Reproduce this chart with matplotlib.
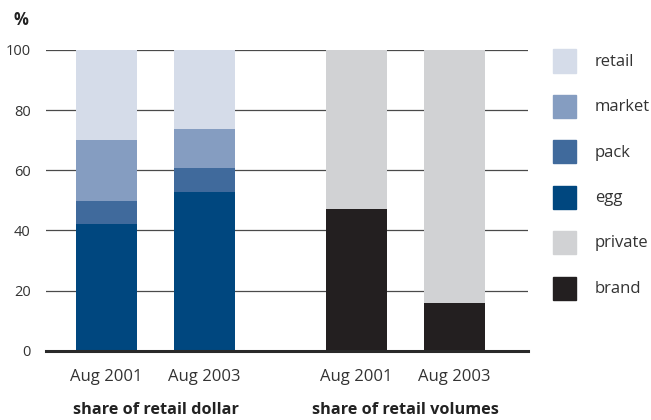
import numpy as np
import matplotlib.pyplot as plt
from matplotlib.patches import Rectangle

plt.rcParams['font.family'] = ['Open Sans', 'DejaVu Sans']

# dollar share, stacked bottom to top
dollar_periods = ["Aug 2001", "Aug 2003"]
egg = [42.1, 52.8]
pack = [7.7, 8.0]
market = [20.2, 12.9]
retail = [30.0, 26.3]

# volume share
volume_periods = ["Aug 2001", "Aug 2003"]
brand = [47.1, 15.9]
private = [52.9, 84.1]

colors = {
    "retail": "#d5dce9",
    "market": "#859dc1",
    "pack": "#406a9c",
    "egg": "#00477f",
    "private": "#d1d2d4",
    "brand": "#231f20",
}

fig = plt.figure(figsize=(6.51, 4.20), dpi=100)
ax = fig.add_axes([0.0707, 0.165, 0.74, 0.716])

x_dollar = np.array([0.0, 1.0])
x_volume = np.array([2.55, 3.55])
w = 0.622

bottom = np.zeros(2)
for name, vals in [("egg", egg), ("pack", pack), ("market", market), ("retail", retail)]:
    ax.bar(x_dollar, vals, w, bottom=bottom, color=colors[name], zorder=3)
    bottom += np.array(vals)

bottom = np.zeros(2)
for name, vals in [("brand", brand), ("private", private)]:
    ax.bar(x_volume, vals, w, bottom=bottom, color=colors[name], zorder=3)
    bottom += np.array(vals)

ax.set_xlim(-0.617, 4.30)
ax.set_ylim(0, 100)
ax.set_yticks([0, 20, 40, 60, 80, 100])
ax.yaxis.grid(True, color="#4a4a4a", linewidth=0.9, zorder=1)
ax.axhline(0, color="#2a2a2a", linewidth=2.2, zorder=4, clip_on=False)
for s in ax.spines.values():
    s.set_visible(False)
ax.tick_params(axis="y", length=0, pad=11, labelsize=10.5, labelcolor="#333333")
ax.set_xticks(np.concatenate([x_dollar, x_volume]))
ax.set_xticklabels(dollar_periods + volume_periods)
ax.tick_params(axis="x", length=0, pad=13, labelsize=12, labelcolor="#333333")

fig.text(0.02, 0.952, "%", fontsize=12, fontweight="bold", color="#222222", va="center")

def data_to_fig_x(xd):
    disp = ax.transData.transform((xd, 0))
    return fig.transFigure.inverted().transform(disp)[0]

fig.text(data_to_fig_x(x_dollar.mean()), 0.024, "share of retail dollar", fontsize=11.7,
         fontweight="bold", ha="center", va="center", color="#222222")
fig.text(data_to_fig_x(x_volume.mean()), 0.024, "share of retail volumes", fontsize=11.7,
         fontweight="bold", ha="center", va="center", color="#222222")

# legend keys down the right side
legend_order = ["retail", "market", "pack", "egg", "private", "brand"]
sq_w, sq_h = 23 / 651, 23 / 420
for i, name in enumerate(legend_order):
    yc = 1 - (61 + i * 45.4) / 420
    fig.add_artist(Rectangle((553 / 651, yc - sq_h / 2), sq_w, sq_h,
                             transform=fig.transFigure, color=colors[name]))
    fig.text(595 / 651, yc - 0.002, name, fontsize=12, va="center", color="#333333")

fig.savefig("out.png", dpi=100)
